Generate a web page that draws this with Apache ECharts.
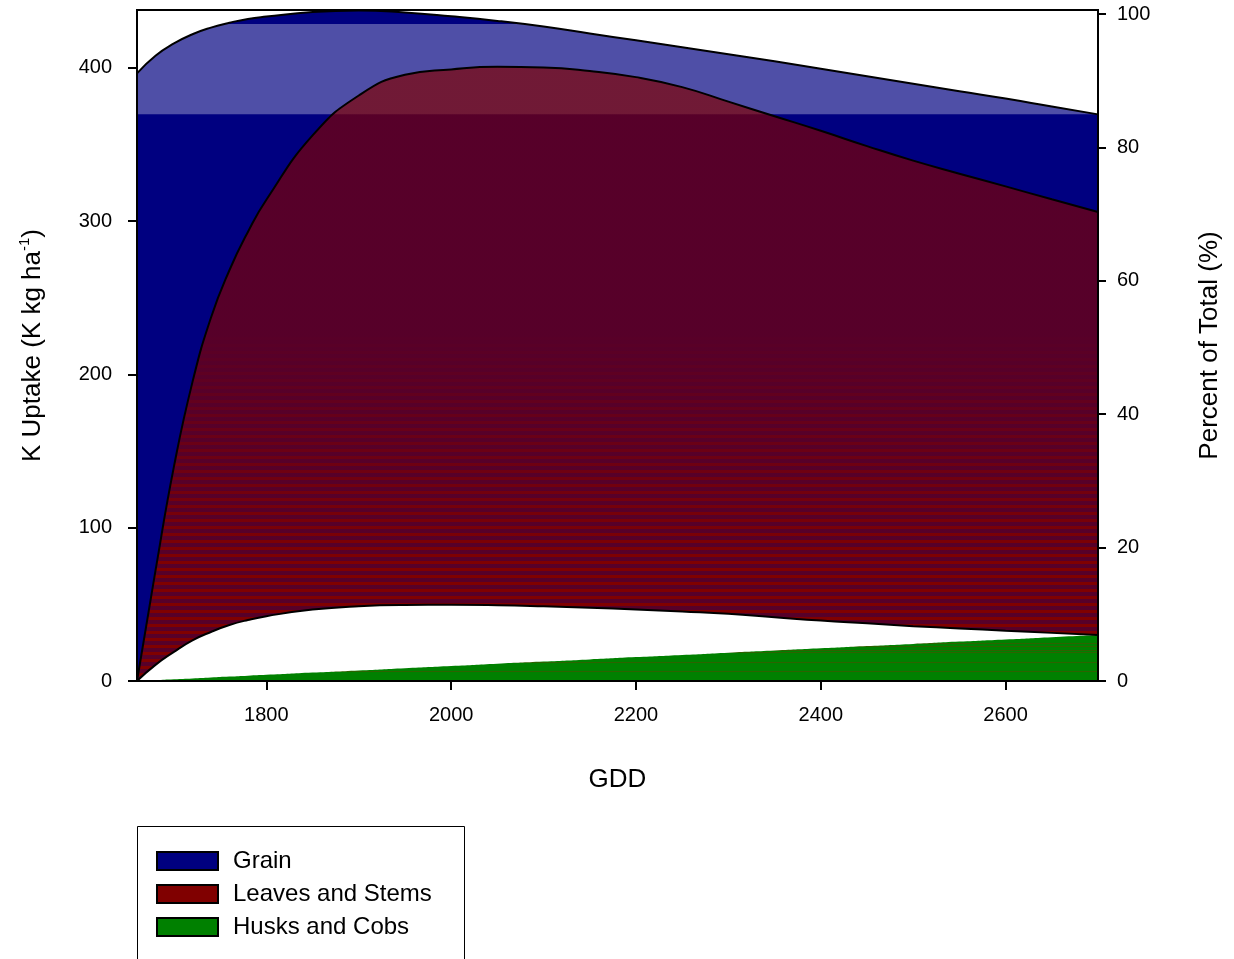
<!DOCTYPE html>
<html>
<head>
<meta charset="utf-8">
<title>K Uptake by GDD</title>
<script src="https://cdn.jsdelivr.net/npm/echarts@6/dist/echarts.min.js"></script>
<style>
  html, body { margin: 0; padding: 0; background: #fff; }
  #chart { width: 1234px; height: 959px; }
</style>
</head>
<body>
<div id="chart"></div>
<script>
// Growing degree days (x values shared by every curve)
const gdd = [1660, 1680, 1700, 1720, 1740, 1760, 1780, 1800, 1850, 1900, 1950, 2000, 2050, 2100, 2150, 2200, 2250, 2300, 2350, 2400, 2450, 2500, 2550, 2600, 2650, 2700];

// Upper edge of the grain area (total K uptake, kg/ha)
const grainTop = [396.5, 408, 416, 422, 426.3, 429.5, 432, 433.5, 436.5, 437.5, 436.2, 433.7, 430.7, 427, 422.5, 418, 413.5, 409, 404.3, 399.5, 394.6, 389.7, 384.8, 380, 374.8, 369.7];
// Upper edge of the leaves and stems band
const leavesTop = [0, 72, 140, 195, 237, 268, 293, 314, 356, 382, 395.5, 399, 400.7, 400.3, 398, 394, 387.5, 378, 368.5, 359, 349, 339.5, 331, 322.7, 314.3, 306];
// Lower edge of the leaves and stems band
const leavesBottom = [0, 10.5, 19, 26.5, 32, 36.5, 39.8, 42.3, 46.6, 48.8, 49.6, 49.7, 49.4, 48.7, 47.8, 46.7, 45.3, 43.8, 41.6, 39.4, 37.6, 35.8, 34.3, 32.8, 31.4, 30];
// Husks and cobs
const husksTop = [0, 0.6, 1.2, 1.7, 2.3, 2.9, 3.5, 4.0, 5.5, 6.9, 8.4, 9.8, 11.3, 12.7, 14.1, 15.6, 17.0, 18.5, 19.9, 21.3, 22.8, 24.2, 25.7, 27.1, 28.6, 30];

// Light band across the top of the plot (K kg/ha)
const bandLow = 369.7;
const bandHigh = 428.7;

// Axis ranges and tick labels
const xRange = [1660, 2700];
const xTicks = [1800, 2000, 2200, 2400, 2600];
const leftRange = [0, 437.8];
const leftTicks = [0, 100, 200, 300, 400];
const rightRange = [0, 100.6];
const rightTicks = [0, 20, 40, 60, 80, 100];

const seriesNames = ['Grain', 'Leaves and Stems', 'Husks and Cobs'];
const seriesColors = ['#000080', '#800000', '#008000'];

const pairs = (ys) => gdd.map((x, i) => [x, ys[i]]);

const FONT = "'Liberation Sans', Arial, Helvetica, sans-serif";
const H = 959;
const SMOOTH = 0.5;

// Horizontal banding inside the leaves and stems fill
function leavesFill() {
  const dark = 'rgba(128,0,0,0.68)';
  const stops = [{ offset: 0, color: dark }];
  for (let y = 330; y < 681; y += 7) {
    const s = (y - 330) / 351;
    const a = 0.68 + 0.32 * Math.min(1, 1.5 * s);
    const bright = 'rgba(128,0,0,' + a.toFixed(3) + ')';
    stops.push({ offset: y / H, color: dark });
    stops.push({ offset: y / H, color: bright });
    stops.push({ offset: (y + 3) / H, color: bright });
    stops.push({ offset: (y + 3) / H, color: dark });
  }
  stops.push({ offset: 1, color: dark });
  return { type: 'linear', x: 0, y: 0, x2: 0, y2: H, colorStops: stops, global: true };
}

// Thin darker rules inside the husks and cobs fill
function husksFill() {
  const base = '#008000';
  const rule = '#2d6200';
  const rows = [643, 646, 650, 652, 662, 671];
  const stops = [{ offset: 0, color: base }];
  rows.forEach((y) => {
    stops.push({ offset: y / H, color: base });
    stops.push({ offset: y / H, color: rule });
    stops.push({ offset: (y + 1) / H, color: rule });
    stops.push({ offset: (y + 1) / H, color: base });
  });
  stops.push({ offset: 1, color: base });
  return { type: 'linear', x: 0, y: 0, x2: 0, y2: H, colorStops: stops, global: true };
}

const areaBase = {
  type: 'line',
  smooth: SMOOTH,
  showSymbol: false,
  silent: true,
  lineStyle: { width: 0, opacity: 0 },
  emphasis: { disabled: true }
};

const outline = (ys, z) => ({
  type: 'line',
  data: pairs(ys),
  smooth: SMOOTH,
  showSymbol: false,
  silent: true,
  z: z,
  lineStyle: { color: '#000', width: 2 },
  emphasis: { disabled: true }
});

const plainNumber = (v) => String(v);

const chart = echarts.init(document.getElementById('chart'), null, { renderer: 'canvas' });

chart.setOption({
  animation: false,
  backgroundColor: '#fff',
  textStyle: { fontFamily: FONT, color: '#000' },
  grid: { left: 137, right: 136, top: 10, bottom: 278, show: true, borderColor: '#000', borderWidth: 2, z: 20, backgroundColor: 'transparent' },
  legend: {
    orient: 'vertical',
    left: 156,
    top: 849,
    padding: 0,
    itemWidth: 61,
    itemHeight: 18,
    itemGap: 9,
    selectedMode: false,
    textStyle: { fontFamily: FONT, fontSize: 24, color: '#000', padding: [0, 0, 0, 10] },
    data: seriesNames.map((n, i) => ({
      name: n,
      icon: 'rect',
      itemStyle: { color: seriesColors[i], borderColor: '#000', borderWidth: 2 }
    }))
  },
  graphic: [{
    type: 'rect',
    shape: { x: 137.5, y: 826.5, width: 327, height: 200 },
    style: { fill: 'none', stroke: '#000', lineWidth: 1 },
    silent: true
  }],
  xAxis: {
    type: 'value',
    min: xRange[0],
    max: xRange[1],
    name: 'GDD',
    nameLocation: 'middle',
    nameGap: 99,
    nameTextStyle: { fontFamily: FONT, fontSize: 26, color: '#000', verticalAlign: 'middle' },
    splitLine: { show: false },
    z: 20,
    axisLine: { lineStyle: { color: '#000', width: 2 } },
    axisTick: { customValues: xTicks, length: 9, inside: false, lineStyle: { color: '#000', width: 2 } },
    axisLabel: { customValues: xTicks, formatter: plainNumber, margin: 24, fontFamily: FONT, fontSize: 20, color: '#000' }
  },
  yAxis: [{
    type: 'value',
    position: 'left',
    min: leftRange[0],
    max: leftRange[1],
    name: '{a|K Uptake (K kg ha}{s|-1}{a|)}',
    nameLocation: 'middle',
    nameRotate: 90,
    nameGap: 104,
    nameTextStyle: {
      fontFamily: FONT, color: '#000', verticalAlign: 'middle',
      rich: {
        a: { fontFamily: FONT, fontSize: 26, lineHeight: 32, color: '#000' },
        s: { fontFamily: FONT, fontSize: 15, lineHeight: 14, verticalAlign: 'top', color: '#000' }
      }
    },
    splitLine: { show: false },
    z: 20,
    axisLine: { show: true, lineStyle: { color: '#000', width: 2 } },
    axisTick: { show: true, customValues: leftTicks, length: 9, lineStyle: { color: '#000', width: 2 } },
    axisLabel: { customValues: leftTicks, formatter: plainNumber, margin: 25, fontFamily: FONT, fontSize: 20, color: '#000' }
  }, {
    type: 'value',
    position: 'right',
    min: rightRange[0],
    max: rightRange[1],
    name: 'Percent of Total (%)',
    nameLocation: 'middle',
    nameRotate: 90,
    nameGap: 112,
    nameTextStyle: { fontFamily: FONT, fontSize: 26, color: '#000', verticalAlign: 'middle' },
    splitLine: { show: false },
    z: 20,
    axisLine: { show: true, lineStyle: { color: '#000', width: 2 } },
    axisTick: { show: true, customValues: rightTicks, length: 8, lineStyle: { color: '#000', width: 2 } },
    axisLabel: { customValues: rightTicks, formatter: plainNumber, margin: 19, fontFamily: FONT, fontSize: 20, color: '#000' }
  }],
  series: [
    Object.assign({}, areaBase, {
      name: seriesNames[0],
      data: pairs(grainTop),
      z: 1,
      itemStyle: { color: seriesColors[0] },
      areaStyle: { color: seriesColors[0], opacity: 1 }
    }),
    // carrier for the translucent light band
    Object.assign({}, areaBase, {
      data: pairs(grainTop),
      z: 2,
      markArea: {
        z: 2,
        silent: true,
        itemStyle: { color: 'rgba(255,255,255,0.31)', opacity: 1 },
        data: [[{ yAxis: bandLow }, { yAxis: bandHigh }]]
      }
    }),
    Object.assign({}, areaBase, {
      name: seriesNames[1],
      data: pairs(leavesTop),
      z: 3,
      itemStyle: { color: seriesColors[1] },
      areaStyle: { color: leavesFill(), opacity: 1 }
    }),
    Object.assign({}, areaBase, {
      data: pairs(leavesBottom),
      z: 4,
      itemStyle: { color: '#fff' },
      areaStyle: { color: '#fff', opacity: 1 }
    }),
    Object.assign({}, areaBase, {
      name: seriesNames[2],
      data: pairs(husksTop),
      z: 5,
      itemStyle: { color: seriesColors[2] },
      areaStyle: { color: husksFill(), opacity: 1 }
    }),
    outline(grainTop, 6),
    outline(leavesTop, 6),
    outline(leavesBottom, 6)
  ]
});
</script>
</body>
</html>
